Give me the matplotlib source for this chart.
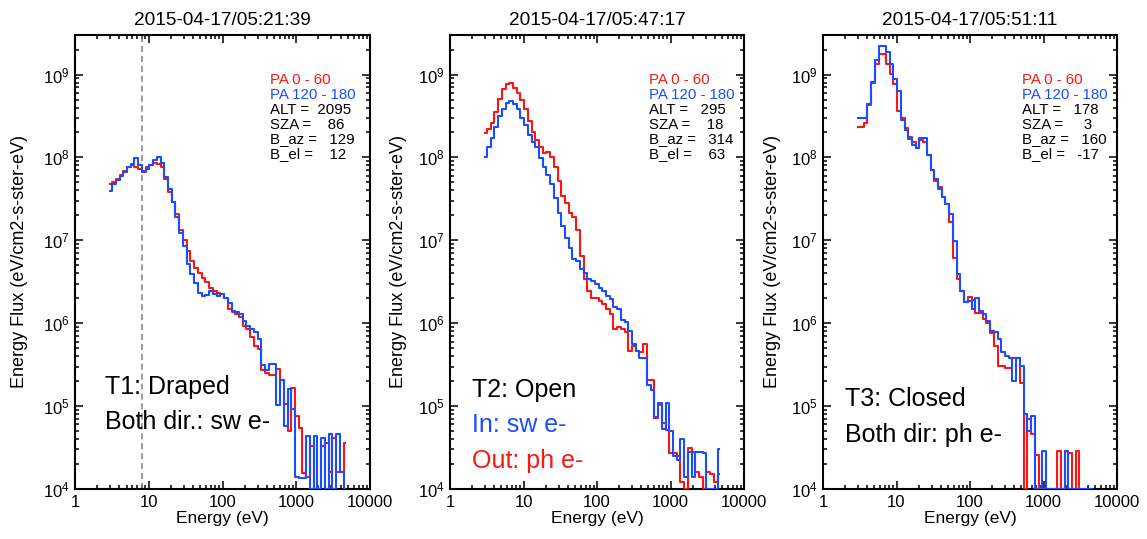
import matplotlib
matplotlib.use("Agg")
import matplotlib.pyplot as plt
import numpy as np
from matplotlib.ticker import FixedLocator, FixedFormatter, LogLocator, NullFormatter

# -----------------------------
# DATA
# -----------------------------
# SWEA energy bins (eV), ascending
energy_ev = [
    2.99, 3.37, 3.78, 4.25, 4.77, 5.36, 6.03, 6.77, 7.61, 8.55,
    9.61, 10.8, 12.1, 13.6, 15.3, 17.2, 19.3, 21.7, 24.4, 27.4,
    30.8, 34.6, 38.9, 43.7, 49.1, 55.2, 62.0, 69.7, 78.3, 88.0,
    98.8, 111, 125, 140, 158, 177, 199, 224, 251, 282,
    317, 356, 400, 450, 505, 568, 638, 717, 806, 905,
    1017, 1143, 1284, 1443, 1621, 1822, 2047, 2300, 2584, 2904,
    3263, 3666, 4119, 4628,
]

# log10 energy flux, PA 0-60 (red) and PA 120-180 (blue); 4.0 = at/below the floor
t1_log_pa0_60 = [
    7.68, 7.70, 7.74, 7.79, 7.84, 7.88, 7.91, 7.89, 7.86, 7.84,
    7.88, 7.91, 7.93, 7.92, 7.89, 7.74, 7.58, 7.46, 7.32, 7.13,
    7.00, 6.87, 6.75, 6.67, 6.60, 6.54, 6.50, 6.43, 6.39, 6.36,
    6.35, 6.31, 6.17, 6.14, 6.11, 6.07, 5.97, 5.93, 5.83, 5.73,
    5.69, 5.44, 5.40, 5.38, 5.38, 5.45, 5.32, 5.02, 4.70, 5.22,
    4.88, 4.74, 4.19, 4.15, 4.52, 4.00, 4.00, 4.52, 4.55, 4.20,
    4.62, 4.20, 4.20, 4.55,
]
t1_log_pa120_180 = [
    7.60, 7.68, 7.73, 7.78, 7.83, 7.88, 7.92, 7.99, 7.91, 7.83,
    7.86, 7.91, 7.97, 8.00, 7.93, 7.77, 7.62, 7.46, 7.28, 7.09,
    6.93, 6.71, 6.59, 6.49, 6.37, 6.33, 6.34, 6.39, 6.35, 6.33,
    6.35, 6.30, 6.24, 6.15, 6.13, 6.11, 6.03, 5.97, 5.93, 5.89,
    5.81, 5.50, 5.44, 5.51, 5.51, 5.01, 5.32, 4.76, 5.21, 4.97,
    4.15, 4.13, 4.13, 4.64, 4.00, 4.64, 4.00, 4.62, 4.00, 4.66,
    4.00, 4.66, 4.21, 4.00,
]

t2_log_pa0_60 = [
    8.30, 8.34, 8.42, 8.55, 8.70, 8.83, 8.88, 8.90, 8.84, 8.78,
    8.69, 8.59, 8.44, 8.31, 8.21, 8.13, 8.05, 8.06, 8.01, 7.89,
    7.71, 7.54, 7.45, 7.33, 7.28, 7.13, 6.81, 6.53, 6.39, 6.31,
    6.30, 6.27, 6.23, 6.17, 6.11, 5.93, 5.96, 5.93, 5.89, 5.67,
    5.73, 5.67, 5.65, 5.75, 5.32, 5.32, 4.86, 5.01, 4.80, 4.71,
    4.44, 4.44, 4.40, 4.08, 4.00, 4.49, 4.45, 4.20, 4.15, 4.00,
    4.20, 4.18, 4.08, 4.18,
]
t2_log_pa120_180 = [
    8.00, 8.13, 8.24, 8.37, 8.50, 8.59, 8.66, 8.68, 8.64, 8.58,
    8.48, 8.39, 8.27, 8.19, 8.12, 7.99, 7.89, 7.79, 7.68, 7.51,
    7.33, 7.17, 7.03, 6.91, 6.77, 6.75, 6.65, 6.61, 6.53, 6.51,
    6.47, 6.43, 6.39, 6.33, 6.29, 6.19, 6.17, 6.04, 6.01, 5.91,
    5.75, 5.67, 5.58, 5.58, 5.26, 5.19, 4.87, 5.04, 4.72, 5.04,
    4.70, 4.40, 4.35, 4.60, 4.15, 4.45, 4.15, 4.45, 4.45, 4.43,
    4.00, 4.00, 4.00, 4.48,
]

t3_log_pa0_60 = [
    8.37, 8.37, 8.42, 8.63, 8.90, 9.13, 9.25, 9.25, 9.13, 9.01,
    8.88, 8.56, 8.47, 8.35, 8.25, 8.19, 8.11, 8.21, 8.19, 8.03,
    7.85, 7.72, 7.64, 7.52, 7.44, 7.22, 6.79, 6.53, 6.39, 6.25,
    6.32, 6.28, 6.12, 6.12, 6.05, 6.00, 5.88, 5.72, 5.48, 5.48,
    5.46, 5.46, 5.58, 5.58, 5.28, 4.00, 4.84, 4.66, 4.41, 4.00,
    4.00, 4.00, 4.00, 4.00, 4.46, 4.00, 4.46, 4.44, 4.00, 4.46,
    4.00, 4.00, 4.00, 4.00,
]
t3_log_pa120_180 = [
    8.47, 8.47, 8.48, 8.64, 8.91, 9.18, 9.34, 9.35, 9.27, 9.13,
    8.95, 8.80, 8.45, 8.33, 8.22, 8.15, 8.11, 8.23, 8.23, 8.03,
    7.85, 7.74, 7.62, 7.52, 7.44, 7.32, 6.99, 6.59, 6.39, 6.25,
    6.27, 6.17, 6.31, 6.15, 6.11, 6.03, 5.91, 5.89, 5.81, 5.65,
    5.60, 5.58, 5.30, 5.58, 5.48, 4.90, 4.70, 4.88, 4.00, 4.00,
    4.46, 4.00, 4.00, 4.00, 4.00, 4.00, 4.46, 4.00, 4.00, 4.00,
    4.00, 4.00, 4.00, 4.00,
]

titles = ["2015-04-17/05:21:39", "2015-04-17/05:47:17", "2015-04-17/05:51:11"]
alt_km = [2095, 295, 178]
sza_deg = [86, 18, 3]
b_az_deg = [129, 314, 160]
b_el_deg = [12, 63, -17]

t1_notes = ["T1: Draped", "Both dir.: sw e-"]
t2_notes = ["T2: Open", "In: sw e-", "Out: ph e-"]
t3_notes = ["T3: Closed", "Both dir: ph e-"]

draped_marker_ev = 8.2

x_ticks = [1, 10, 100, 1000, 10000]
x_tick_labels = ["1", "10", "100", "1000", "10000"]

# -----------------------------
# STYLE
# -----------------------------
plt.rcParams["font.family"] = ["Liberation Sans", "DejaVu Sans"]
plt.rcParams["mathtext.default"] = "regular"

RED = "#ff1414"
BLUE = "#1a4dff"
W, H = 1147, 539

fig = plt.figure(figsize=(W / 100, H / 100), dpi=100)

panel_px = [(75, 295), (450, 294), (823, 294)]
legend_x = [0.661, 0.677, 0.677]
ylabel_x = [-0.159, -0.146, -0.143]

panel_red = [t1_log_pa0_60, t2_log_pa0_60, t3_log_pa0_60]
panel_blue = [t1_log_pa120_180, t2_log_pa120_180, t3_log_pa120_180]

notes = [
    (t1_notes, ["black", "black"], 0.102, [0.209, 0.1315]),
    (t2_notes, ["black", BLUE, RED], 0.074, [0.203, 0.126, 0.0455]),
    (t3_notes, ["black", "black"], 0.075, [0.183, 0.104]),
]

energy = np.array(energy_ev)

for k in range(3):
    left, width = panel_px[k]
    ax = fig.add_axes([left / W, 50 / H, width / W, 454 / H])
    ax.set_xscale("log")
    ax.set_yscale("log")

    ax.step(energy, 10 ** np.array(panel_red[k]), where="mid", color=RED, lw=1.5, zorder=3)
    ax.step(energy, 10 ** np.array(panel_blue[k]), where="mid", color=BLUE, lw=1.5, zorder=3)

    if k == 0:
        ax.axvline(draped_marker_ev, color="#808080", lw=1.1, ls=(0, (4, 2.5)), zorder=2)

    ax.set_xlim(1, 1e4)
    ax.set_ylim(1e4, 3e9)

    ax.xaxis.set_major_locator(FixedLocator(x_ticks))
    ax.xaxis.set_major_formatter(FixedFormatter(x_tick_labels))
    ax.xaxis.set_minor_locator(LogLocator(base=10, subs=range(2, 10), numticks=20))
    ax.xaxis.set_minor_formatter(NullFormatter())
    ax.yaxis.set_major_locator(LogLocator(base=10, numticks=20))
    ax.yaxis.set_minor_locator(LogLocator(base=10, subs=range(2, 10), numticks=20))
    ax.yaxis.set_minor_formatter(NullFormatter())

    ax.tick_params(which="both", direction="in", top=True, right=True, labelsize=12)
    ax.tick_params(which="major", length=6, width=1.1)
    ax.tick_params(which="minor", length=3, width=1.1)
    ax.tick_params(axis="x", pad=4)
    ax.tick_params(axis="y", pad=4)
    for sp in ax.spines.values():
        sp.set_linewidth(1.5)

    ax.set_title(titles[k], fontsize=13.7, pad=7.5)
    ax.set_xlabel("Energy (eV)", fontsize=12.5, labelpad=1)
    ax.set_ylabel("Energy Flux (eV/cm2-s-ster-eV)", fontsize=13)
    ax.yaxis.set_label_coords(ylabel_x[k], 0.5)

    # info block
    lines = [
        ("PA 0 - 60", RED),
        ("PA 120 - 180", BLUE),
        ("ALT = %5d" % alt_km[k], "black"),
        ("SZA = %5d" % sza_deg[k], "black"),
        ("B_az = %5d" % b_az_deg[k], "black"),
        ("B_el = %5d" % b_el_deg[k], "black"),
    ]
    for j, (txt, col) in enumerate(lines):
        ax.text(legend_x[k], 0.893 - j * 0.033, txt, color=col, fontsize=10.8,
                transform=ax.transAxes, ha="left", va="baseline")

    note_txt, note_col, nx, ny = notes[k]
    for txt, col, y in zip(note_txt, note_col, ny):
        ax.text(nx, y, txt, color=col, fontsize=18, transform=ax.transAxes,
                ha="left", va="baseline")

fig.savefig("out.png", dpi=100)
